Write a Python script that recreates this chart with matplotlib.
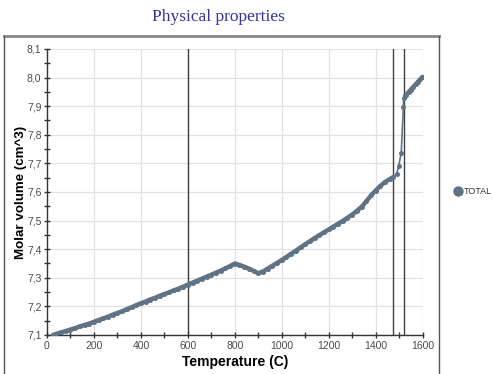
import matplotlib.pyplot as plt
from matplotlib.lines import Line2D
from matplotlib.ticker import MultipleLocator, FuncFormatter

# temperature (C) and molar volume (cm^3) for the TOTAL phase
temperature = [25, 40, 60, 80, 100, 120, 140, 160, 180, 200,
               220, 240, 260, 280, 300, 320, 340, 360, 380, 400,
               420, 440, 460, 480, 500, 520, 540, 560, 580, 600,
               620, 640, 660, 680, 700, 720, 740, 760, 780, 800,
               820, 840, 860, 880, 900, 920, 940, 960, 980, 1000,
               1020, 1040, 1060, 1080, 1100, 1120, 1140, 1160, 1180, 1200,
               1220, 1240, 1260, 1280, 1300, 1320, 1340, 1360, 1380, 1400,
               1420, 1440, 1460, 1475, 1489, 1498, 1509, 1518, 1519, 1525,
               1530, 1540, 1550, 1560, 1570, 1580, 1590, 1600]
volume = [7.100, 7.104, 7.109, 7.114, 7.119, 7.124, 7.130, 7.135, 7.140, 7.146,
          7.152, 7.158, 7.164, 7.171, 7.177, 7.183, 7.190, 7.197, 7.204, 7.211,
          7.217, 7.224, 7.230, 7.237, 7.243, 7.249, 7.256, 7.262, 7.269, 7.276,
          7.283, 7.290, 7.297, 7.304, 7.311, 7.318, 7.325, 7.333, 7.341, 7.350,
          7.345, 7.339, 7.332, 7.324, 7.316, 7.322, 7.332, 7.342, 7.352, 7.362,
          7.373, 7.384, 7.395, 7.406, 7.417, 7.428, 7.439, 7.449, 7.459, 7.469,
          7.479, 7.489, 7.499, 7.510, 7.521, 7.534, 7.548, 7.567, 7.588, 7.605,
          7.621, 7.635, 7.645, 7.652, 7.663, 7.690, 7.737, 7.897, 7.928, 7.936,
          7.940, 7.949, 7.958, 7.967, 7.976, 7.985, 7.994, 8.003]

# phase boundaries marked on the plot
boundaries = [600, 1475, 1520]

series_name = 'TOTAL'
color = '#5f7384'

fig = plt.figure(figsize=(4.93, 3.74), dpi=100)
ax = fig.add_axes([47 / 493, 39 / 374, (422.6 - 47) / 493, (335 - 49) / 374])

# dense stretches read as a thick band, the jump at melting stays thin
n_solid = temperature.index(1475) + 1
n_liquid = temperature.index(1525)
ax.plot(temperature, volume, color=color, lw=1.2, marker='o', ms=3.6,
        markeredgewidth=0, zorder=3)
ax.plot(temperature[:n_solid], volume[:n_solid], color=color, lw=3.2,
        solid_capstyle='round', zorder=3)
ax.plot(temperature[n_liquid:], volume[n_liquid:], color=color, lw=3.2,
        solid_capstyle='round', zorder=3)
for b in boundaries:
    ax.axvline(b, color='#404040', lw=1, zorder=2)

ax.set_xlim(0, 1600)
ax.set_ylim(7.1, 8.1)
ax.xaxis.set_major_locator(MultipleLocator(200))
ax.xaxis.set_minor_locator(MultipleLocator(100))
ax.yaxis.set_major_locator(MultipleLocator(0.1))
ax.yaxis.set_minor_locator(MultipleLocator(0.05))
ax.yaxis.set_major_formatter(FuncFormatter(lambda v, p: f'{v:.1f}'.replace('.', ',')))
ax.grid(True, which='major', color='#e2e2e2', lw=0.9, zorder=0)

for s in ['top', 'right']:
    ax.spines[s].set_visible(False)
for s in ['left', 'bottom']:
    ax.spines[s].set_color('#333333')
    ax.spines[s].set_linewidth(1)

ax.tick_params(which='both', direction='inout', color='#333333', width=1,
               labelsize=7.5, labelcolor='#4a4a4a', pad=1.5)
ax.tick_params(which='major', length=5)
ax.tick_params(which='minor', length=4)
for lab in ax.get_xticklabels() + ax.get_yticklabels():
    lab.set_family('Liberation Sans')

ax.set_xlabel('Temperature (C)', fontsize=10, fontweight='bold',
              family='Liberation Sans', labelpad=3)
ax.set_ylabel('Molar volume (cm^3)', fontsize=9.6, fontweight='bold',
              family='Liberation Sans', labelpad=0)

fig.text(218 / 493, 1 - 17 / 374, 'Physical properties', ha='center', va='center',
         fontsize=12.5, family='Liberation Serif', color='#333399')

# outer frame around the chart panel
fig.add_artist(Line2D([4 / 493, 439 / 493], [1 - 36 / 374] * 2, color='#888888', lw=2))
fig.add_artist(Line2D([4 / 493] * 2, [0, 1 - 36 / 374], color='#555555', lw=1))
fig.add_artist(Line2D([439 / 493] * 2, [0, 1 - 36 / 374], color='#555555', lw=1))

# legend entry
fig.add_artist(Line2D([457.5 / 493], [1 - 191 / 374], marker='o', ms=7.5,
                      color=color, markeredgewidth=0, lw=0))
fig.text(464 / 493, 1 - 191 / 374, series_name, ha='left', va='center',
         fontsize=6.5, family='Liberation Sans', color='#333333')

fig.savefig('out.png', dpi=100)
